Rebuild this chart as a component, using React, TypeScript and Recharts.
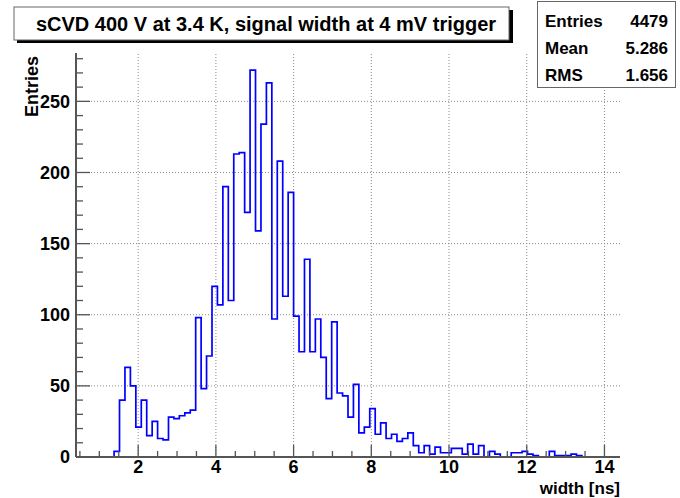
import React from 'react'
import { LineChart, Line, XAxis, YAxis, ReferenceLine } from 'recharts'

// 100 bins of signal width between 0.4 and 14.4 ns
const X_MIN = 0.4
const X_MAX = 14.4
const Y_MAX = 284

const counts = [
  0, 0, 0, 0, 0, 0, 0, 4, 40, 63,
  50, 21, 40, 15, 25, 13, 12, 28, 27, 29,
  31, 33, 98, 48, 71, 120, 107, 190, 110, 213,
  214, 172, 272, 159, 234, 263, 97, 208, 113, 186,
  99, 74, 139, 74, 97, 70, 41, 95, 45, 43,
  28, 51, 17, 21, 34, 16, 24, 13, 16, 11,
  13, 17, 8, 3, 8, 2, 7, 3, 3, 6,
  6, 2, 9, 2, 8, 0, 4, 2, 0, 0,
  3, 3, 4, 2, 1, 0, 0, 4, 1, 1,
  1, 2, 1, 0, 0, 0, 0, 0, 0, 0,
]

const xMajor = [2, 4, 6, 8, 10, 12, 14]
const yMajor = [0, 50, 100, 150, 200, 250]

const statNames = ['Entries', 'Mean', 'RMS']
const statValues = ['4479', '5.286', '1.656']

const TITLE = 'sCVD 400 V at 3.4 K, signal width at 4 mV trigger'
const X_TITLE = 'width [ns]'
const Y_TITLE = 'Entries'

// minor ticks: 4 divisions per 2 ns, 5 divisions per 50 entries
const xTicks: number[] = []
for (let v = 0.5; v <= X_MAX; v += 0.5) xTicks.push(v)
const yTicks: number[] = []
for (let v = 0; v <= Y_MAX; v += 10) yTicks.push(v)

const binWidth = (X_MAX - X_MIN) / counts.length
const data = counts.map((c, i) => ({ x: X_MIN + i * binWidth, count: c }))
data.push({ x: X_MAX, count: counts[counts.length - 1] })

const FONT = '"Liberation Sans", Arial, Helvetica, sans-serif'
const AXIS = '#555'
const GRID = '#8a8a8a'

const BottomTick = (p: any) => {
  const major = xMajor.includes(p.payload.value)
  return (
    <g>
      <line x1={p.x} x2={p.x} y1={p.y} y2={p.y - (major ? 12 : 6)} stroke={AXIS} strokeWidth={1.3} />
      {major && (
        <text x={p.x} y={p.y + 16} textAnchor="middle" fontFamily={FONT} fontWeight="bold" fontSize={18} fill="#000">
          {p.payload.value}
        </text>
      )}
    </g>
  )
}

const TopTick = (p: any) => {
  const major = xMajor.includes(p.payload.value)
  return <line x1={p.x} x2={p.x} y1={p.y} y2={p.y + (major ? 12 : 6)} stroke={AXIS} strokeWidth={1.3} />
}

const LeftTick = (p: any) => {
  const major = yMajor.includes(p.payload.value)
  return (
    <g>
      <line x1={p.x} x2={p.x + (major ? 14 : 7)} y1={p.y} y2={p.y} stroke={AXIS} strokeWidth={1.3} />
      {major && (
        <text x={p.x - 6} y={p.y} dy="0.36em" textAnchor="end" fontFamily={FONT} fontWeight="bold" fontSize={18} fill="#000">
          {p.payload.value}
        </text>
      )}
    </g>
  )
}

const RightTick = (p: any) => {
  const major = yMajor.includes(p.payload.value)
  return <line x1={p.x} x2={p.x - (major ? 14 : 7)} y1={p.y} y2={p.y} stroke={AXIS} strokeWidth={1.3} />
}

export default function App() {
  return (
    <div style={{ position: 'absolute', left: 0, top: 0, width: 680, height: 498, background: '#fff' }}>
      <LineChart width={680} height={498} data={data} margin={{ top: 53, right: 60, bottom: 11, left: 16 }}>
        <XAxis
          dataKey="x"
          type="number"
          domain={[X_MIN, X_MAX]}
          allowDataOverflow
          ticks={xTicks}
          interval={0}
          tickSize={0}
          tickMargin={0}
          height={30}
          tick={BottomTick}
          axisLine={{ stroke: AXIS, strokeWidth: 2 }}
        />
        <XAxis
          xAxisId="top"
          orientation="top"
          type="number"
          domain={[X_MIN, X_MAX]}
          allowDataOverflow
          ticks={xTicks}
          interval={0}
          tickSize={0}
          tickMargin={0}
          height={0}
          tick={TopTick}
          axisLine={{ stroke: AXIS, strokeWidth: 2 }}
        />
        <YAxis
          type="number"
          domain={[0, Y_MAX]}
          allowDataOverflow
          ticks={yTicks}
          interval={0}
          tickSize={0}
          tickMargin={0}
          width={60}
          tick={LeftTick}
          axisLine={{ stroke: AXIS, strokeWidth: 2 }}
        />
        <YAxis
          yAxisId="right"
          orientation="right"
          type="number"
          domain={[0, Y_MAX]}
          allowDataOverflow
          ticks={yTicks}
          interval={0}
          tickSize={0}
          tickMargin={0}
          width={0}
          tick={RightTick}
          axisLine={{ stroke: AXIS, strokeWidth: 2 }}
        />
        {xMajor.map((v) => (
          <ReferenceLine key={'gx' + v} x={v} stroke={GRID} strokeDasharray="1 2" />
        ))}
        {yMajor.slice(1).map((v) => (
          <ReferenceLine key={'gy' + v} y={v} stroke={GRID} strokeDasharray="1 2" />
        ))}
        <Line
          dataKey="count"
          type="stepAfter"
          stroke="#0000ff"
          strokeWidth={1.7}
          dot={false}
          activeDot={false}
          isAnimationActive={false}
        />
      </LineChart>

      <svg width={680} height={498} style={{ position: 'absolute', left: 0, top: 0, pointerEvents: 'none' }}>
        {/* title pave with drop shadow */}
        <rect x={17} y={10} width={496} height={33} fill="#000" />
        <rect x={14} y={7} width={495} height={33} fill="#fff" stroke="#666" strokeWidth={1} />
        <text x={266} y={31} textAnchor="middle" fontFamily={FONT} fontWeight="bold" fontSize={20} fill="#000">
          {TITLE}
        </text>

        {/* statistics box */}
        <rect x={537.5} y={1.5} width={138} height={86} fill="#fff" stroke="#666" strokeWidth={1} />
        {statNames.map((n, i) => (
          <g key={n}>
            <text x={545} y={27 + i * 27} fontFamily={FONT} fontWeight="bold" fontSize={17} fill="#000">
              {n}
            </text>
            <text x={668} y={27 + i * 27} textAnchor="end" fontFamily={FONT} fontWeight="bold" fontSize={17} fill="#000">
              {statValues[i]}
            </text>
          </g>
        ))}

        <text x={620} y={494} textAnchor="end" fontFamily={FONT} fontWeight="bold" fontSize={17} fill="#000">
          {X_TITLE}
        </text>
        <text
          x={38}
          y={56}
          transform="rotate(-90 38 56)"
          textAnchor="end"
          fontFamily={FONT}
          fontWeight="bold"
          fontSize={18}
          fill="#000"
        >
          {Y_TITLE}
        </text>
      </svg>
    </div>
  )
}
